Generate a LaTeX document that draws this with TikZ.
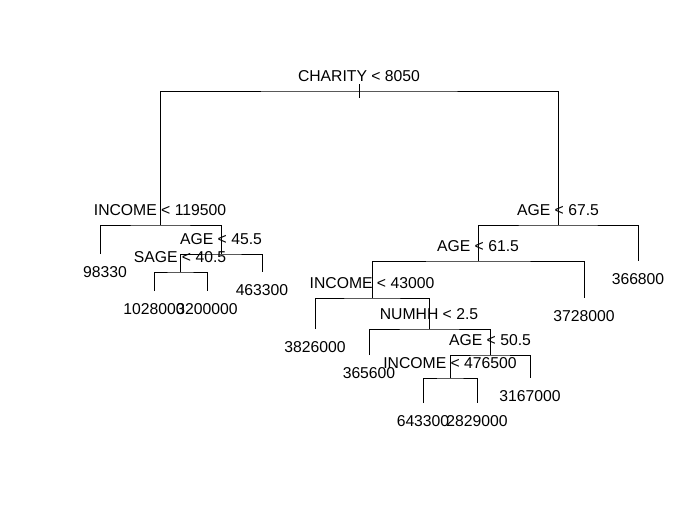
\documentclass[tikz,border=0pt]{standalone}
\usepackage{fontspec}
\setmainfont{Liberation Sans}
\usetikzlibrary{positioning}

\begin{document}
\begin{tikzpicture}[
x=0.75pt, y=-0.75pt,
font=\fontsize{11.8}{14}\selectfont,
edge/.style={draw, line width=0.75pt},
splitlabel/.style={anchor=base, inner sep=0pt, yshift=7.1pt},
leaflabel/.style={anchor=base, inner sep=0pt, yshift=-17.6pt}
]
\useasboundingbox (0,0) rectangle (700,514);

% split points (x, height of the bar)
\coordinate (root) at (359,91);
\coordinate (inc1) at (160,225);
\coordinate (age1) at (221,254);
\coordinate (sage) at (180,272);
\coordinate (age2) at (558,225);
\coordinate (age3) at (478,261);
\coordinate (inc2) at (372,298);
\coordinate (numhh) at (429,329);
\coordinate (age4) at (490,355);
\coordinate (inc3) at (450,378);

% leaves (x, lower end)
\coordinate (leafA) at (100,254);
\coordinate (leafB) at (154,291);
\coordinate (leafC) at (207,291);
\coordinate (leafD) at (262,272);
\coordinate (leafE) at (315,329);
\coordinate (leafF) at (369,355);
\coordinate (leafG) at (423,403);
\coordinate (leafH) at (477,403);
\coordinate (leafI) at (530,378);
\coordinate (leafJ) at (584,298);
\coordinate (leafK) at (638,261);
\coordinate (tickT) at (359,84);
\coordinate (tickB) at (359,98);

% branches
\draw[edge] (inc1) |- (root) -| (age2);
\draw[edge] (tickT) -- (tickB);
\draw[edge] (leafA) |- (inc1) -| (age1);
\draw[edge] (sage) |- (age1) -| (leafD);
\draw[edge] (leafB) |- (sage) -| (leafC);
\draw[edge] (age3) |- (age2) -| (leafK);
\draw[edge] (inc2) |- (age3) -| (leafJ);
\draw[edge] (leafE) |- (inc2) -| (numhh);
\draw[edge] (leafF) |- (numhh) -| (age4);
\draw[edge] (inc3) |- (age4) -| (leafI);
\draw[edge] (leafG) |- (inc3) -| (leafH);

% split labels
\node[splitlabel] (t-root) at (root) {CHARITY < 8050};
\node[splitlabel] (t-inc1) at (inc1) {INCOME < 119500};
\node[splitlabel] (t-age1) at (age1) {AGE < 45.5};
\node[splitlabel] (t-sage) at (sage) {SAGE < 40.5};
\node[splitlabel] (t-age2) at (age2) {AGE < 67.5};
\node[splitlabel] (t-age3) at (age3) {AGE < 61.5};
\node[splitlabel] (t-inc2) at (inc2) {INCOME < 43000};
\node[splitlabel] (t-numhh) at (numhh) {NUMHH < 2.5};
\node[splitlabel] (t-age4) at (age4) {AGE < 50.5};
\node[splitlabel] (t-inc3) at (inc3) {INCOME < 476500};

% leaf values
\node[leaflabel, xshift=3.75pt] (v-A) at (leafA) {98330};
\node[leaflabel] (v-B) at (leafB) {1028000};
\node[leaflabel] (v-C) at (leafC) {3200000};
\node[leaflabel] (v-D) at (leafD) {463300};
\node[leaflabel] (v-E) at (leafE) {3826000};
\node[leaflabel] (v-F) at (leafF) {365600};
\node[leaflabel] (v-G) at (leafG) {643300};
\node[leaflabel] (v-H) at (leafH) {2829000};
\node[leaflabel] (v-I) at (leafI) {3167000};
\node[leaflabel] (v-J) at (leafJ) {3728000};
\node[leaflabel] (v-K) at (leafK) {366800};
\end{tikzpicture}
\end{document}
